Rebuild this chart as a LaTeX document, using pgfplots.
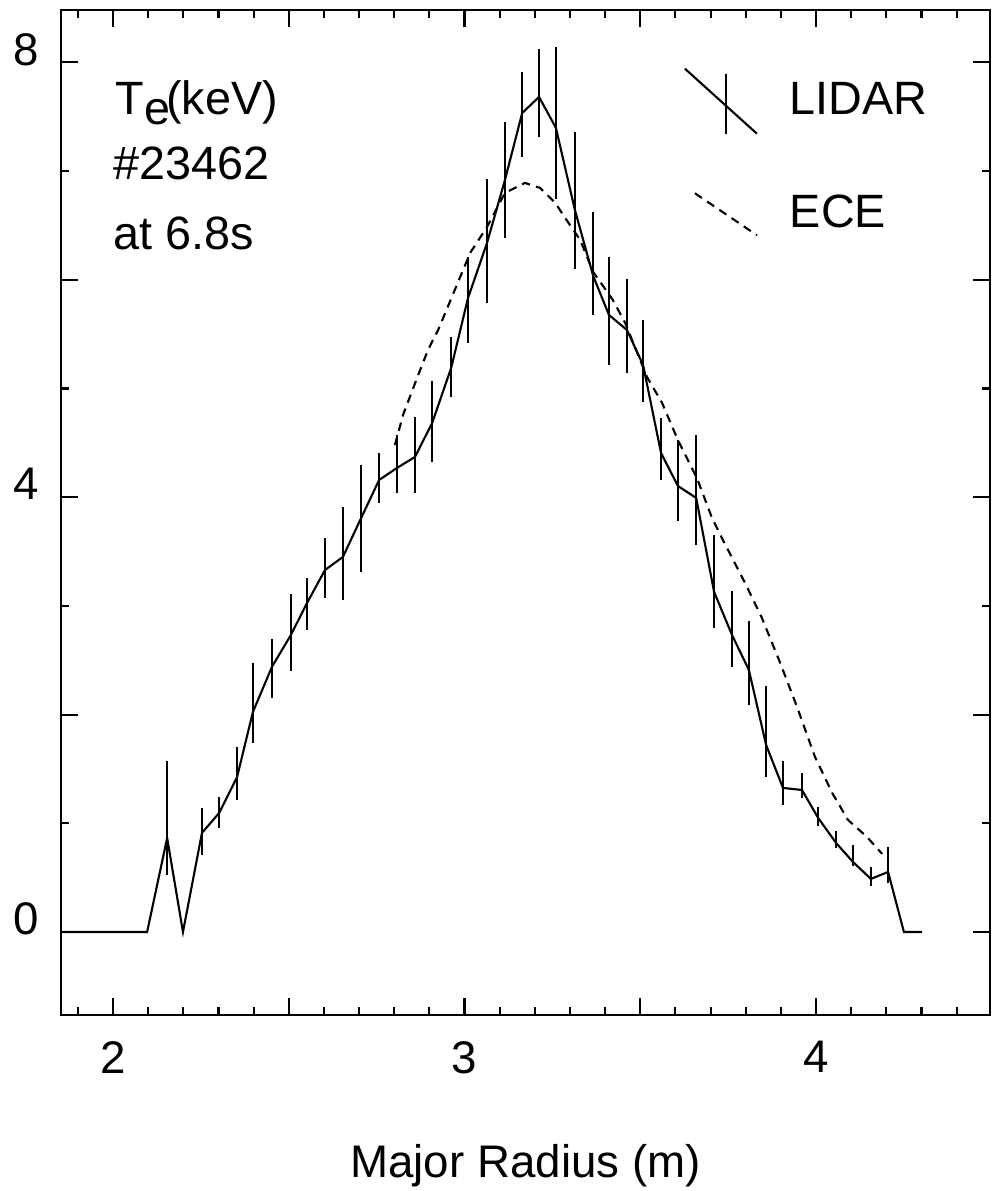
\documentclass[border=0pt]{standalone}
\usepackage{fontspec}
\setmainfont{Liberation Sans}
\usepackage{pgfplots}
\pgfplotsset{compat=1.18}
\usepackage{pgfplotstable}

% LIDAR profile with asymmetric error bars
\pgfplotstableread{
x y ep em
1.852 0 0 0
2.097 0 0 0
2.154 0.865 0.708 0.340
2.199 0 0 0
2.253 0.911 0.230 0.202
2.302 1.095 0.147 0.138
2.353 1.426 0.276 0.212
2.398 2.024 0.451 0.285
2.452 2.438 0.258 0.285
2.506 2.732 0.377 0.331
2.552 3.027 0.230 0.248
2.603 3.330 0.294 0.258
2.654 3.450 0.460 0.396
2.706 3.809 0.488 0.497
2.757 4.158 0.248 0.212
2.808 4.269 0.304 0.230
2.859 4.370 0.368 0.331
2.908 4.683 0.386 0.359
2.962 5.189 0.285 0.267
3.010 5.833 0.377 0.414
3.064 6.339 0.589 0.552
3.115 6.918 0.534 0.534
3.164 7.534 0.377 0.405
3.212 7.682 0.442 0.368
3.260 7.397 0.745 0.653
3.314 6.642 0.718 0.543
3.366 6.035 0.589 0.359
3.411 5.676 0.534 0.460
3.462 5.538 0.469 0.396
3.508 5.216 0.414 0.340
3.559 4.407 0.322 0.248
3.607 4.103 0.423 0.322
3.659 3.993 0.580 0.432
3.710 3.128 0.524 0.331
3.761 2.732 0.405 0.294
3.809 2.410 0.451 0.322
3.858 1.720 0.543 0.294
3.906 1.325 0.248 0.156
3.960 1.306 0.156 0.074
4.006 1.049 0.101 0.074
4.057 0.819 0.110 0.046
4.105 0.644 0.156 0.037
4.156 0.488 0.110 0.064
4.205 0.552 0.230 0.101
4.250 0 0 0
4.302 0 0 0
}\lidar

% ECE profile
\pgfplotstableread{
x y
2.802 4.480
2.825 4.756
2.865 5.097
2.896 5.354
2.925 5.538
2.964 5.842
3.016 6.247
3.064 6.486
3.115 6.799
3.172 6.891
3.215 6.845
3.258 6.707
3.294 6.532
3.329 6.366
3.366 6.072
3.422 5.814
3.457 5.603
3.519 5.106
3.562 4.867
3.607 4.526
3.661 4.177
3.704 3.809
3.735 3.606
3.798 3.211
3.846 2.889
3.898 2.475
3.946 2.070
3.997 1.610
4.046 1.279
4.091 1.030
4.145 0.874
4.188 0.718
}\ece

\begin{document}
\begin{tikzpicture}
\begin{axis}[
  scale only axis, width=92.9mm, height=100.5mm,
  xmin=1.852, xmax=4.495, ymin=-0.764, ymax=8.482,
  axis line style={line width=0.6pt},
  every tick/.style={black, line width=0.6pt},
  major tick length=1.7mm, minor tick length=0.8mm,
  xtick={2,2.5,3,3.5,4,4.5}, xticklabels={2,,3,,4,},
  minor xtick={1.9,2.0,...,4.45},
  ytick={0,2,4,6,8}, yticklabels={0,,4,,8},
  minor ytick={0,1,...,8},
  /pgf/number format/assume math mode=true,
  ticklabel style={font=\fontsize{13}{15}\selectfont},
  xticklabel style={yshift=-1.4mm},
  yticklabel style={xshift=-1mm, yshift=1.3mm},
  xlabel={Major Radius (m)},
  xlabel style={font=\fontsize{13}{15}\selectfont, inner sep=0pt,
    at={(axis description cs:0.5,0)}, anchor=base, yshift=-16.3mm},
  legend style={at={(axis cs:3.622,7.958)}, anchor=north west, draw=none, fill=none,
    inner sep=0pt, row sep=4.7mm, font=\fontsize{13.3}{16}\selectfont,
    nodes={inner sep=0pt}, /tikz/every odd column/.append style={column sep=3.2mm}},
  legend cell align=left,
]
\addplot[black, line width=0.6pt,
  legend image code/.code={
    \path[draw=none, fill=none] (0,-3.25mm) rectangle (7.2mm,3.25mm);
    \draw[black, line width=0.6pt, solid] (0,3.25mm) -- (7.2mm,-3.25mm);
    \draw[black, line width=0.6pt, solid] (4.1mm,2.75mm) -- (4.1mm,-3.25mm);},
  error bars/.cd, y dir=both, y explicit, error mark=none,
  error bar style={line width=0.6pt}]
  table[x=x, y=y, y error plus=ep, y error minus=em] {\lidar};
\addlegendentry{LIDAR}
\addplot[black, line width=0.6pt, dash pattern=on 2.4pt off 1.8pt,
  legend image code/.code={
    \path[draw=none, fill=none] (0,-3.25mm) rectangle (7.2mm,3.25mm);
    \draw[black, line width=0.6pt, dash pattern=on 2.4pt off 1.8pt] (1mm,2.1mm) -- (7.2mm,-2.1mm);}]
  table[x=x, y=y] {\ece};
\addlegendentry{ECE}
\node[anchor=base west, inner sep=0pt, font=\fontsize{13.3}{16}\selectfont] at (axis cs:2.006,7.516) {T\raisebox{-1mm}{e}\kern-0.4mm(keV)};
\node[anchor=base west, inner sep=0pt, font=\fontsize{13.3}{16}\selectfont] at (axis cs:2.0,6.918) {\#23462};
\node[anchor=base west, inner sep=0pt, font=\fontsize{13.3}{16}\selectfont] at (axis cs:2.0,6.283) {at 6.8s};
\end{axis}
\path ([xshift=-6.1mm,yshift=1mm]current axis.north west);
\path ([xshift=0.1mm,yshift=-17.6mm]current axis.south east);
\end{tikzpicture}
\end{document}
